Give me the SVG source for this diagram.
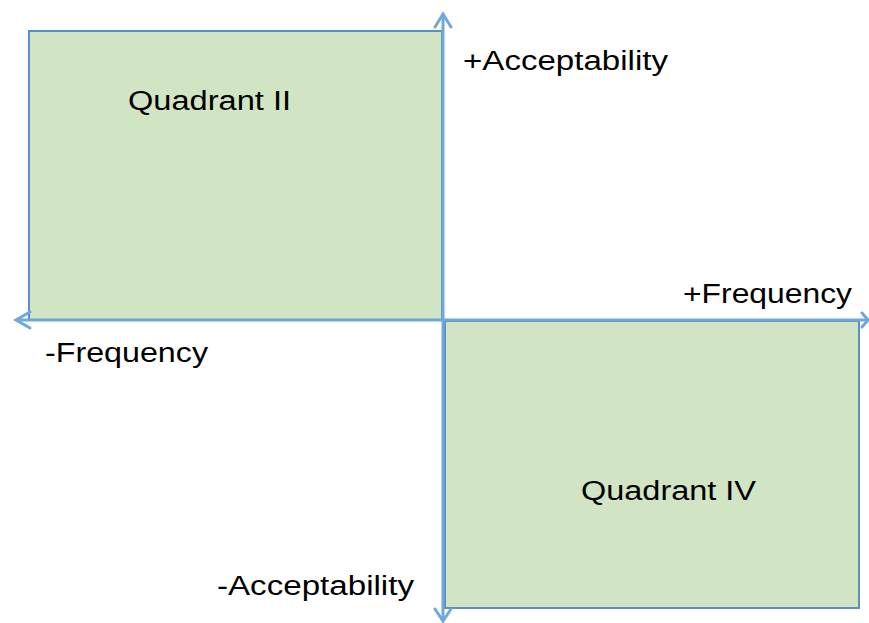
<svg xmlns="http://www.w3.org/2000/svg" width="869" height="623" viewBox="0 0 869 623">
<defs>
<style>
.q{fill:#d1e4c4;stroke:#5b8fc0;stroke-width:2}
.ax{stroke:#6fa8dc;stroke-width:3;fill:none}
.hd{stroke:#6fa8dc;stroke-width:3;fill:none;stroke-linecap:round;stroke-linejoin:miter}
text{font-family:"Liberation Sans",Arial,sans-serif;font-size:27px;fill:#000}
</style>
</defs>
<rect width="869" height="623" fill="#fff"/>
<g id="quadrant-ii">
<rect class="q" x="29" y="31" width="413" height="289"/>
<text x="128" y="110" textLength="163" lengthAdjust="spacingAndGlyphs">Quadrant II</text>
</g>
<g id="quadrant-iv">
<rect class="q" x="445" y="321" width="414" height="287"/>
<text x="581" y="500" textLength="175" lengthAdjust="spacingAndGlyphs">Quadrant IV</text>
</g>
<g id="connectors">
<line class="ax" x1="443" y1="14" x2="443" y2="621"/>
<line class="ax" x1="16" y1="320" x2="868" y2="320"/>
<polyline class="hd" points="435,27 443,14 451,27"/>
<polyline class="hd" points="435,609 443,621 451,609"/>
<polyline class="hd" points="30,312 16,320 30,328"/>
<polyline class="hd" points="862,313 868,320 862,327"/>
</g>
<g id="labels">
<text x="463" y="70" textLength="205" lengthAdjust="spacingAndGlyphs">+Acceptability</text>
<text x="683" y="303" textLength="169" lengthAdjust="spacingAndGlyphs">+Frequency</text>
<text x="45" y="362" textLength="163" lengthAdjust="spacingAndGlyphs">-Frequency</text>
<text x="217" y="595" textLength="197" lengthAdjust="spacingAndGlyphs">-Acceptability</text>
</g>
</svg>
